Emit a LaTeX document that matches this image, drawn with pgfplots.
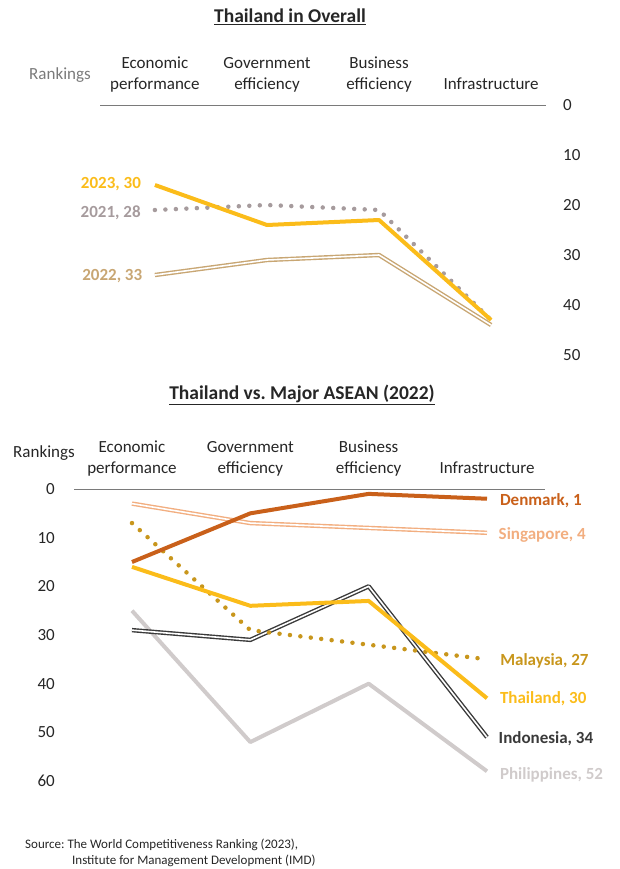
\documentclass[border=0pt]{standalone}
\usepackage{fontspec}
\setmainfont{Carlito}
\usepackage{pgfplots}
\pgfplotsset{compat=1.18}

\definecolor{gold}{HTML}{FBBC1A}
\definecolor{mauve}{HTML}{A69B9D}
\definecolor{tan}{HTML}{C8A673}
\definecolor{denmark}{HTML}{C9601A}
\definecolor{singa}{HTML}{F2AE80}
\definecolor{malay}{HTML}{C8961C}
\definecolor{indo}{HTML}{3A3A3A}
\definecolor{phil}{HTML}{D0CBCB}
\definecolor{axgray}{HTML}{7A7A7A}
\definecolor{txt}{HTML}{262626}

\tikzset{
  solid line/.style={line width=4pt, line join=round},
  dbl line/.style={line width=1.4pt, double=white, double distance=1.6pt, line join=round},
  dot line/.style={line width=4.5pt, line cap=round, dash pattern=on 0pt off 10.5pt},
  lbl/.style={font=\bfseries\fontsize{17}{21}\selectfont, inner sep=0pt},
}
\pgfplotsset{
  rank/.style={
    scale only axis,
    y dir=reverse,
    xmin=-0.49, xmax=3.49,
    axis line style={draw=none},
    major tick length=0pt,
    xtick={0,1,2,3},
    xticklabels={{Economic\\performance},{Government\\efficiency},{Business\\efficiency},{Infrastructure\vphantom{py}}},
    xticklabel pos=upper,
    xticklabel style={align=center, anchor=south, inner sep=0pt, yshift=13pt,
      font=\fontsize{17}{21}\selectfont, text=txt},
    yticklabel style={font=\fontsize{17}{21}\selectfont, text=txt, inner sep=0pt},
    /pgf/number format/assume math mode=true,
    clip=false,
  },
}

\begin{document}
\begin{tikzpicture}
\path[use as bounding box] (0,0) rectangle (619pt,-869pt);

% titles
\node[font=\bfseries\fontsize{19.5}{22}\selectfont, text=txt] at (290pt,-17pt) {\underline{Thailand in Overall}};
\node[font=\bfseries\fontsize{19.5}{22}\selectfont, text=txt] at (302pt,-395pt) {\underline{Thailand vs.\ Major ASEAN (2022)}};
\node[font=\fontsize{17}{21}\selectfont, text=axgray] at (60pt,-75pt) {Rankings};
\node[font=\fontsize{17}{21}\selectfont, text=txt] at (44pt,-453pt) {Rankings};

% top chart
\begin{axis}[rank,
  at={(100pt,-105pt)}, anchor=north west,
  width=446pt, height=250pt,
  ymin=0, ymax=50,
  ytick={0,10,20,30,40,50},
  yticklabel pos=right,
  yticklabel style={anchor=west, xshift=17pt},
]
\draw[axgray, line width=1pt] (axis cs:-0.49,0) -- (axis cs:3.49,0);
\addplot[tan, dbl line] coordinates {(0,34) (1,31) (2,30) (3,44)}
  node[lbl, text=tan, pos=0, anchor=east, xshift=-12pt, yshift=-1pt] {2022, 33};
\addplot[mauve, dot line] coordinates {(0,21) (1,20) (2,21) (3,43)}
  node[lbl, text=mauve, pos=0, anchor=east, xshift=-12pt, yshift=-3pt] {2021, 28};
\addplot[gold, solid line] coordinates {(0,16) (1,24) (2,23) (3,43)}
  node[lbl, text=gold, pos=0, anchor=east, xshift=-12pt, yshift=1pt] {2023, 30};
\end{axis}

% bottom chart
\begin{axis}[rank,
  at={(74pt,-489pt)}, anchor=north west,
  width=471pt, height=292pt,
  ymin=0, ymax=60,
  ytick={0,10,20,30,40,50,60},
  yticklabel pos=left,
  yticklabel style={anchor=east, xshift=-19pt},
]
\draw[axgray, line width=1pt] (axis cs:-0.49,0) -- (axis cs:3.49,0);
\addplot[phil, solid line] coordinates {(0,25) (1,52) (2,40) (3,58)}
  node[lbl, text=phil, pos=1, anchor=west, xshift=11pt, yshift=-4pt] {Philippines, 52};
\addplot[indo, dbl line] coordinates {(0,29) (1,31) (2,20) (3,51)}
  node[lbl, text=indo, pos=1, anchor=west, xshift=11pt, yshift=-1pt] {Indonesia, 34};
\addplot[malay, dot line] coordinates {(0,7) (1,29) (2,32) (3,35)}
  node[lbl, text=malay, pos=1, anchor=west, xshift=11pt, yshift=-2pt] {Malaysia, 27};
\addplot[gold, solid line] coordinates {(0,16) (1,24) (2,23) (3,43)}
  node[lbl, text=gold, pos=1, anchor=west, xshift=11pt] {Thailand, 30};
\addplot[singa, dbl line] coordinates {(0,3) (1,7) (2,8) (3,9)}
  node[lbl, text=singa, pos=1, anchor=west, xshift=11pt, yshift=-2pt] {Singapore, 4};
\addplot[denmark, solid line] coordinates {(0,15) (1,5) (2,1) (3,2)}
  node[lbl, text=denmark, pos=1, anchor=west, xshift=11pt, yshift=-2pt] {Denmark, 1};
\end{axis}

% source
\node[anchor=west, font=\fontsize{13}{15}\selectfont, text=txt, inner sep=0pt] at (25pt,-845pt) {Source:\ The World Competitiveness Ranking (2023),};
\node[anchor=west, font=\fontsize{13}{15}\selectfont, text=txt, inner sep=0pt] at (72pt,-861pt) {Institute for Management Development (IMD)};
\end{tikzpicture}
\end{document}
